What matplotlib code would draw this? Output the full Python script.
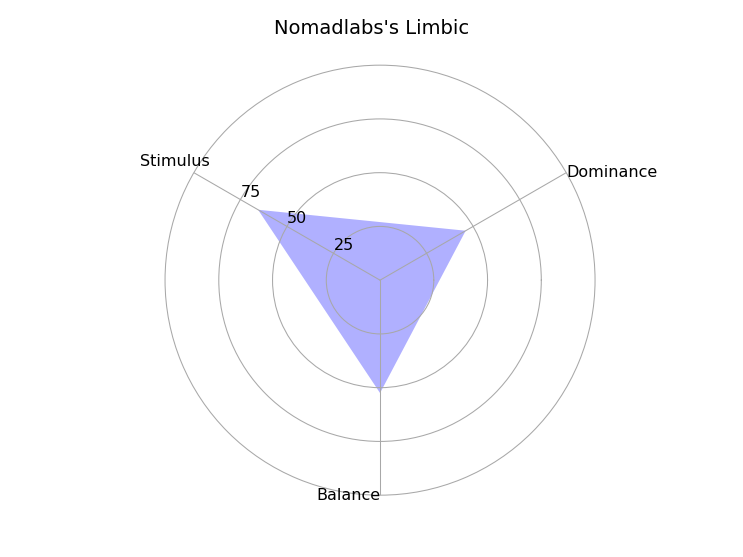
"""Radar chart of the Limbic profile."""

import numpy as np

import matplotlib
matplotlib.use("Agg")
import matplotlib.pyplot as plt  # noqa: E402

CATEGORIES = ["Dominance", "Stimulus", "Balance"]
VALUES = [46, 65.5, 52.5]
RTICKS = [25, 50, 75]
RTICK_LABELS = ["25", "50", "75"]
TITLE = "Nomadlabs's Limbic"

GRID = "#a8a8a8"


def main() -> None:
    fig = plt.figure(figsize=(7.43, 5.57), dpi=100)
    ax = fig.add_axes([0.222, 0.111, 0.579, 0.772], projection="polar")

    # first axis sits at 30 degrees, the rest evenly spaced
    theta = np.deg2rad(30) + np.linspace(0, 2 * np.pi, len(CATEGORIES), endpoint=False)
    ax.fill(theta, VALUES, color="blue", alpha=0.31, lw=0, zorder=1)

    ax.set_xlim(0, 2 * np.pi)
    ax.set_ylim(0, 100)
    ax.set_rgrids(RTICKS, labels=RTICK_LABELS, angle=150, fontsize=11.5)
    ax.set_xticks(theta)
    ax.set_xticklabels([])
    ax.tick_params(axis="both", length=0)
    ax.grid(color=GRID, lw=0.75)
    ax.spines["polar"].set_color(GRID)
    ax.spines["polar"].set_linewidth(0.75)
    ax.spines["polar"].set_capstyle("butt")
    for side in ("start", "end", "inner"):
        ax.spines[side].set_visible(False)

    # category labels placed by hand around the outer ring
    align = [("left", "center", 100), ("center", "center", 110), ("right", "center", 100)]
    for t, name, (ha, va, r) in zip(theta, CATEGORIES, align):
        ax.text(t, r, name, ha=ha, va=va, fontsize=11.5)

    fig.suptitle(TITLE, fontsize=14, y=0.965)
    fig.savefig("out.png", dpi=100)
    plt.close(fig)


if __name__ == "__main__":
    main()
